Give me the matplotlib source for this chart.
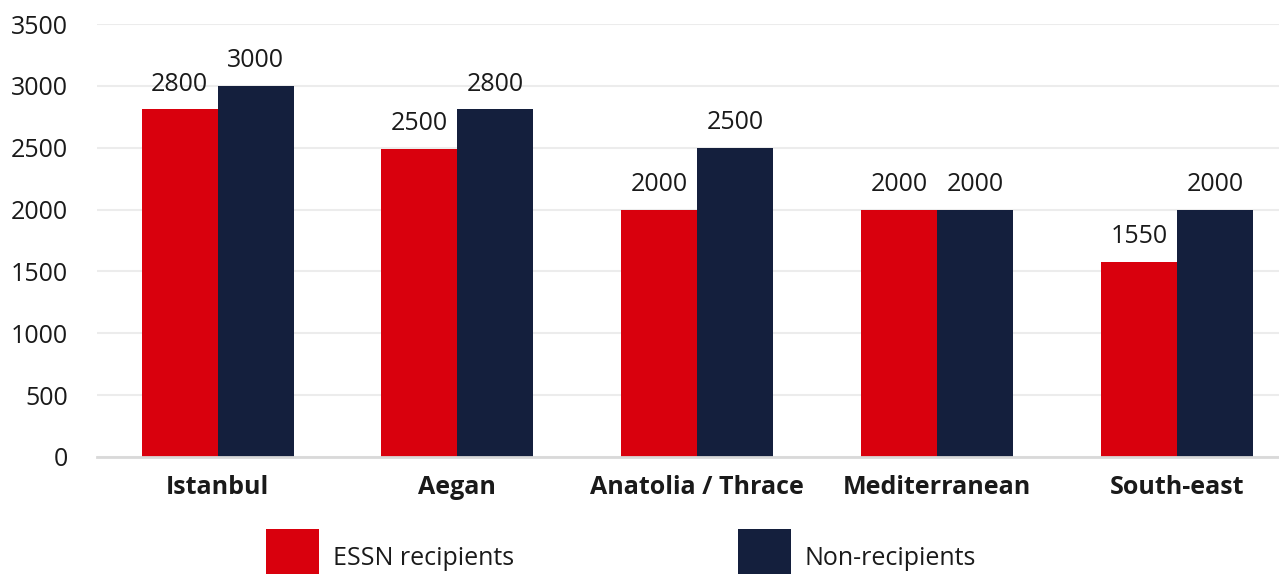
import matplotlib
matplotlib.use("Agg")
import matplotlib.pyplot as plt
import numpy as np
from matplotlib.patches import Patch

categories = ["Istanbul", "Aegan", "Anatolia / Thrace", "Mediterranean", "South-east"]
essn_values = [2810, 2490, 2000, 2000, 1578]
non_values = [3000, 2810, 2500, 2000, 2000]
essn_labels = ["2800", "2500", "2000", "2000", "1550"]
non_labels = ["3000", "2800", "2500", "2000", "2000"]
yticks = [0, 500, 1000, 1500, 2000, 2500, 3000, 3500]
series_names = ["ESSN recipients", "Non-recipients"]

RED = "#d9000d"
NAVY = "#141f3d"
TXT = "#1a1a1a"

plt.rcParams['font.family'] = ['Open Sans', 'DejaVu Sans']

W, H = 1279, 574
fig = plt.figure(figsize=(W / 100, H / 100), dpi=100)
ax = fig.add_axes([97 / W, (H - 457) / H, (W - 97) / W, (457 - 24) / H])

x = np.arange(len(categories))
bw = 0.317
b1 = ax.bar(x - bw / 2, essn_values, bw, color=RED, zorder=3)
b2 = ax.bar(x + bw / 2, non_values, bw, color=NAVY, zorder=3)

for bars, labels in ((b1, essn_labels), (b2, non_labels)):
    for rect, lab in zip(bars, labels):
        ax.annotate(lab, (rect.get_x() + rect.get_width() / 2, rect.get_height()),
                    xytext=(0, 9), textcoords="offset points", ha="center", va="bottom",
                    fontsize=18, color=TXT)

ax.set_ylim(0, 3500)
ax.set_xlim(-0.503, 4.426)
ax.set_yticks(yticks)
ax.set_yticklabels([str(v) for v in yticks], fontsize=18, color=TXT)
ax.set_xticks(x)
ax.set_xticklabels(categories, fontsize=18, fontweight="bold", color=TXT)
ax.tick_params(axis="y", length=0, pad=21)
ax.tick_params(axis="x", length=0, pad=13)
ax.grid(axis="y", color="#ececec", linewidth=1.5, zorder=0)
for s in ["left", "right", "top"]:
    ax.spines[s].set_visible(False)
ax.spines["bottom"].set_color("#d9d9d9")
ax.spines["bottom"].set_linewidth(2)
ax.spines["bottom"].set_zorder(4)

handles = [Patch(facecolor=RED), Patch(facecolor=NAVY)]
fig.legend(handles, series_names, loc="lower center", bbox_to_anchor=(621 / W, -0.043),
           ncol=2, frameon=False, fontsize=18, handlelength=2.12, handleheight=3.17,
           handletextpad=0.56, columnspacing=8.96, borderpad=0, labelcolor=TXT)

fig.savefig("out.png", dpi=100)
